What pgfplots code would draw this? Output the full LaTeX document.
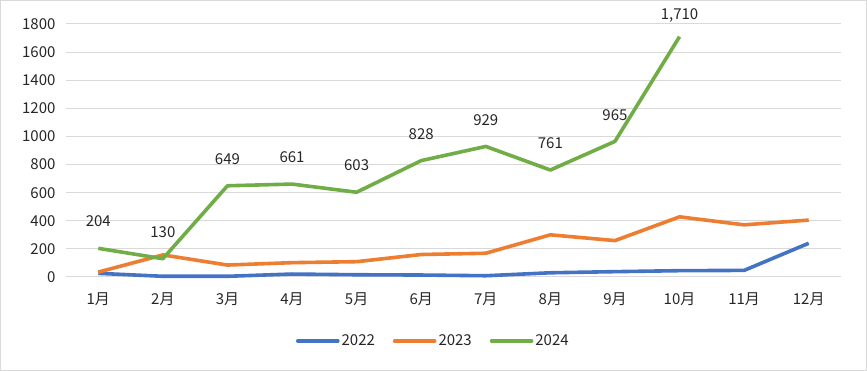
\documentclass[border=0pt]{standalone}
\usepackage{pgfplots}
\pgfplotsset{compat=1.18}
\usepackage{fontspec}
\setmainfont{Noto Sans CJK SC}
\definecolor{c22}{HTML}{4472C4}
\definecolor{c23}{HTML}{ED7D31}
\definecolor{c24}{HTML}{70AD47}
\definecolor{gridc}{HTML}{D9D9D9}
\newcommand{\lf}{\fontsize{15}{16}\selectfont}
\begin{document}
\begin{tikzpicture}[x=1pt,y=1pt]
\draw[gridc,line width=0.8pt] (-65.6,-93.6) rectangle (800.6,276.6);
\begin{axis}[
  at={(0,0)}, anchor=south west,
  scale only axis, width=775pt, height=253pt,
  xmin=0.5, xmax=12.5, ymin=0, ymax=1800,
  xtick={1,...,12},
  xticklabels={1月,2月,3月,4月,5月,6月,7月,8月,9月,10月,11月,12月},
  ytick={0,200,...,1800},
  ymajorgrids, grid style={gridc, line width=1pt},
  axis line style={draw=none},
  axis x line*=bottom,
  tick style={draw=none},
  major tick length=0pt,
  /pgf/number format/assume math mode=true,
  yticklabel style={font=\lf, text=black!85, /pgf/number format/1000 sep={}},
  xticklabel style={font=\lf, text=black!85},
  xticklabel shift=12pt,
  yticklabel shift=7pt,
  legend style={at={(0.474,-0.253)}, anchor=center, draw=none, legend columns=-1,
    font=\lf, text=black!85,
    /tikz/every even column/.append style={column sep=16pt}},
  legend image code/.code={\draw[#1, line cap=round] (0pt,0pt) -- (40pt,0pt);},
  clip=false,
]
\addplot[c22, line width=3.6pt, line join=round] coordinates {
(1,26)(2,5)(3,5)(4,21)(5,16)(6,14)(7,9)(8,30)(9,38)(10,45)(11,47)(12,240)};
\addlegendentry{2022}
\addplot[c23, line width=3.6pt, line join=round] coordinates {
(1,35)(2,157)(3,85)(4,102)(5,109)(6,160)(7,169)(8,300)(9,259)(10,428)(11,371)(12,405)};
\addlegendentry{2023}
\addplot[c24, line width=3.6pt, line join=round,
  nodes near coords={\pgfmathprintnumber[1000 sep={,}]{\pgfplotspointmeta}},
  point meta=explicit,
  visualization depends on={rawy \as \yv},
  every node near coord/.append style={font=\lf, text=black!85, anchor=south,
     yshift={ifthenelse(\yv>1500,9,16)}}]
  coordinates {
(1,204)[204](2,130)[130](3,649)[649](4,661)[661](5,603)[603](6,828)[828](7,929)[929](8,761)[761](9,965)[965](10,1710)[1710]};
\addlegendentry{2024}
\end{axis}
\end{tikzpicture}
\end{document}
